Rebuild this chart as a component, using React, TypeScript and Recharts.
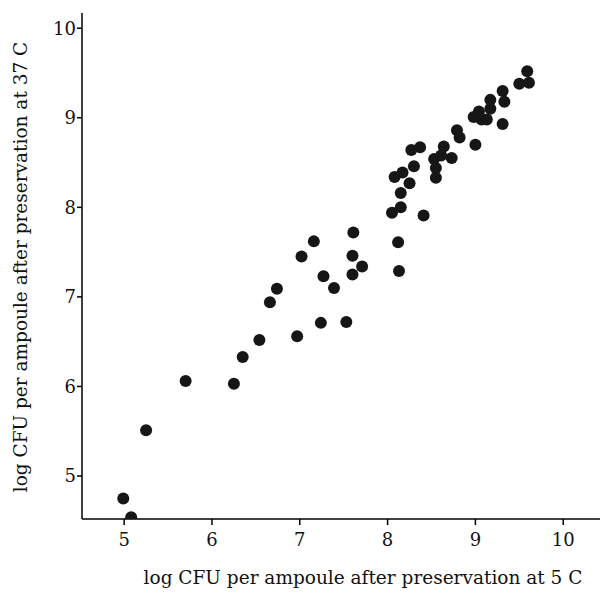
import { ScatterChart, Scatter, XAxis, YAxis, Label } from 'recharts';

// log CFU after 5 C (x) and after 37 C (y)
const at5C = [
  9.59, 9.5, 9.61, 9.31, 9.17, 9.33, 9.17, 9.04, 8.98, 9.07, 9.13, 9.31,
  8.79, 8.82, 9.0, 8.64, 8.27, 8.37, 8.53, 8.61, 8.73, 8.3, 8.55, 8.08,
  8.17, 8.55, 8.25, 8.15, 8.15, 8.05, 8.41, 7.61, 8.12, 7.6, 7.16, 7.02,
  7.27, 7.39, 6.74, 6.66, 7.24, 6.97, 6.54, 6.35, 5.7, 6.25, 5.25, 4.99,
  5.08, 7.71, 7.6, 8.13, 7.53,
];
const at37C = [
  9.52, 9.38, 9.39, 9.3, 9.2, 9.18, 9.1, 9.07, 9.01, 8.98, 8.98, 8.93,
  8.86, 8.78, 8.7, 8.68, 8.64, 8.67, 8.54, 8.58, 8.55, 8.46, 8.44, 8.34,
  8.39, 8.33, 8.27, 8.16, 8.0, 7.94, 7.91, 7.72, 7.61, 7.46, 7.62, 7.45,
  7.23, 7.1, 7.09, 6.94, 6.71, 6.56, 6.52, 6.33, 6.06, 6.03, 5.51, 4.75,
  4.54, 7.34, 7.25, 7.29, 6.72,
];
const xTicks = [5, 6, 7, 8, 9, 10];
const yTicks = [5, 6, 7, 8, 9, 10];

const data = at5C.map((x, i) => ({ x, y: at37C[i] }));

const font = 'DejaVu Serif';
const labelStyle = { fill: '#111', fontSize: 18.5, fontFamily: font };

const Dot = (props: any) => <circle cx={props.cx} cy={props.cy} r={6} fill="#161616" />;

const XTitle = () => (
  <text x={355} y={576} textAnchor="middle" {...labelStyle}>
    log CFU per ampoule after preservation at 5 C
  </text>
);

const YTitle = () => (
  <text
    x={12}
    y={259}
    textAnchor="middle"
    dominantBaseline="central"
    transform="rotate(-90 12 259)"
    {...labelStyle}
  >
    log CFU per ampoule after preservation at 37 C
  </text>
);

export default function App() {
  return (
    <div style={{ width: 600, height: 585, background: '#fff' }}>
      <ScatterChart width={600} height={585} margin={{ top: 5, right: 0, bottom: 0, left: 0 }}>
        <XAxis
          type="number"
          dataKey="x"
          domain={[4.52, 10.51]}
          ticks={xTicks}
          allowDataOverflow
          height={74}
          stroke="#000"
          strokeWidth={1.5}
          tickSize={6}
          tickMargin={8}
          tick={{ fill: '#111', fontSize: 18, fontFamily: font }}
        >
          <Label content={XTitle} />
        </XAxis>
        <YAxis
          type="number"
          dataKey="y"
          domain={[4.52, 10.17]}
          ticks={yTicks}
          allowDataOverflow
          width={74}
          stroke="#000"
          strokeWidth={1.5}
          tickSize={5}
          tickMargin={1}
          tick={{ fill: '#111', fontSize: 18, fontFamily: font }}
        >
          <Label content={YTitle} />
        </YAxis>
        <Scatter data={data} shape={Dot} isAnimationActive={false} />
      </ScatterChart>
    </div>
  );
}
